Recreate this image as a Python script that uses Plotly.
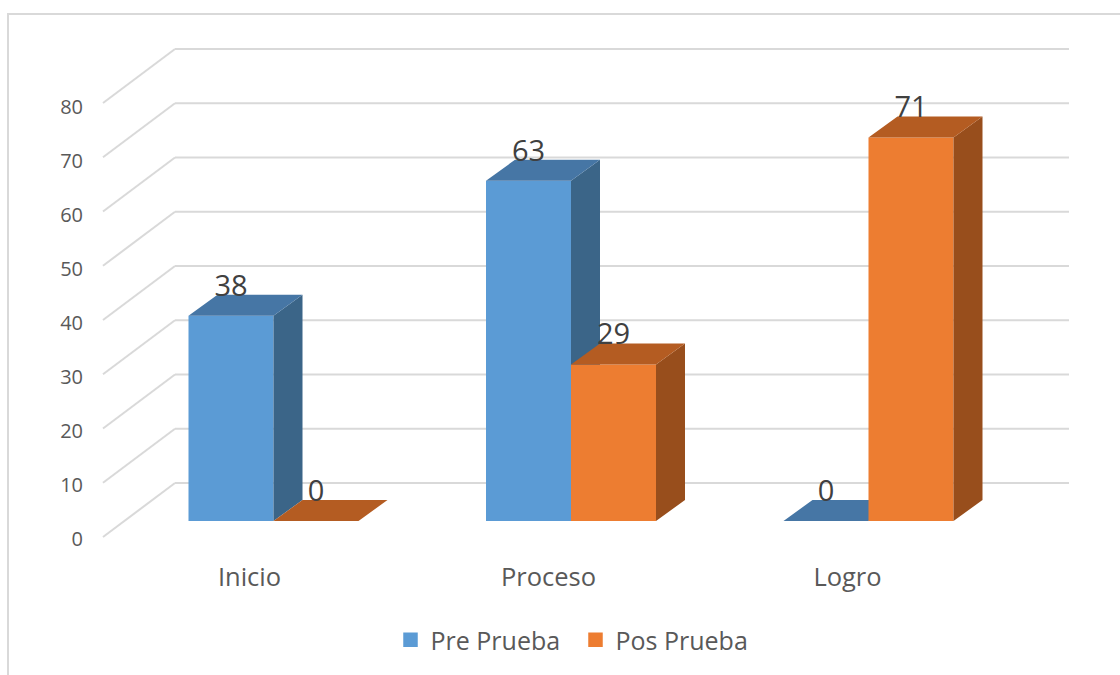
import plotly.graph_objects as go

categories = ["Inicio", "Proceso", "Logro"]
pre_prueba = [38, 63, 0]
pos_prueba = [0, 29, 71]
grid_values = [0, 10, 20, 30, 40, 50, 60, 70, 80]

W, H = 1120, 675
PX_CAT = 297.5
CAT0 = 273.5
PX_UNIT = 5.40
GRID_UNIT = 5.425
Y0 = 521
BAR_W = 85 / PX_CAT
DX = 29 / PX_CAT
DY = 21 / PX_UNIT
GRID = "#D9D9D9"
FONT = "Open Sans"
TXT = "#595959"
BLUE = "#5B9BD5"
ORANGE = "#ED7D31"


def px_x(p):
    return (p - CAT0) / PX_CAT


def px_y(p):
    return (Y0 - p) / PX_UNIT


X_RANGE = [px_x(0), px_x(W)]
Y_RANGE = [px_y(H), px_y(0)]

shapes = []
for v in grid_values:
    front_y = px_y(537 - GRID_UNIT * v)
    back_y = px_y(483 - GRID_UNIT * v)
    for x0, y0, x1, y1 in [(px_x(103), front_y, px_x(175), back_y), (px_x(175), back_y, px_x(1069), back_y)]:
        shapes.append(dict(type="line", xref="x", yref="y", x0=x0, y0=y0, x1=x1, y1=y1,
                           layer="below", line=dict(color=GRID, width=2)))
shapes.append(dict(type="path", xref="paper", yref="paper", layer="below",
                   path=f"M {8/W} 0 L {8/W} {1-14/H} L 1 {1-14/H}", line=dict(color=GRID, width=2)))


def faces(values, offset):
    top_x, top_y, side_x, side_y = [], [], [], []
    for i, v in enumerate(values):
        l = i + offset
        r = l + BAR_W
        top_x += [l, l + DX, r + DX, r, l, None]
        top_y += [v, v + DY, v + DY, v, v, None]
        side_x += [r, r + DX, r + DX, r, r, None]
        side_y += [v, v + DY, DY, 0, v, None]
    return top_x, top_y, side_x, side_y


def add_series(fig, name, values, offset, front, top, side, xa, ya):
    tx, ty, sx, sy = faces(values, offset)
    fig.add_trace(go.Bar(name=name, x=[0, 1, 2], y=values, width=BAR_W, offset=offset, showlegend=False,
                         marker=dict(color=front, line=dict(width=0)), xaxis=xa, yaxis=ya))
    fig.add_trace(go.Scatter(x=sx, y=sy, mode="lines", fill="toself", fillcolor=side,
                             line=dict(width=0, color=side), showlegend=False, hoverinfo="skip", xaxis=xa, yaxis=ya))
    fig.add_trace(go.Scatter(x=tx, y=ty, mode="lines", fill="toself", fillcolor=top,
                             line=dict(width=0, color=top), showlegend=False, hoverinfo="skip", xaxis=xa, yaxis=ya))
    # legend key only: no data drawn, wider outline gives the larger square swatch
    fig.add_trace(go.Bar(name=name, x=[None], y=[None], marker=dict(color=front, line=dict(width=2.5, color=front)),
                         xaxis=xa, yaxis=ya))


fig = go.Figure()
add_series(fig, "Pre Prueba", pre_prueba, -BAR_W, BLUE, "#4676A5", "#3B6588", "x", "y")
add_series(fig, "Pos Prueba", pos_prueba, 0, ORANGE, "#B45C22", "#984E1C", "x2", "y2")

label_shift = 27.5 / PX_UNIT
label_x = [i - BAR_W / 2 for i in range(3)] + [i + BAR_W / 2 for i in range(3)]
label_v = pre_prueba + pos_prueba
fig.add_trace(go.Scatter(x=label_x, y=[v + label_shift for v in label_v], mode="text",
                         text=[str(v) for v in label_v], textposition="middle center",
                         textfont=dict(family=FONT, size=29, color="#404040"),
                         showlegend=False, hoverinfo="skip", xaxis="x2", yaxis="y2"))

# Axis-label layer: value 0 sits on the front wall, categories under the floor
fig.add_trace(go.Scatter(x=[0, 1, 2], y=[0, 0, 0], mode="markers", marker=dict(opacity=0),
                         showlegend=False, hoverinfo="skip", xaxis="x3", yaxis="y3"))

hidden = dict(visible=False, showgrid=False, zeroline=False, fixedrange=True)
fig.update_layout(
    width=W, height=H, autosize=False, margin=dict(l=0, r=0, t=0, b=0),
    paper_bgcolor="white", plot_bgcolor="rgba(0,0,0,0)",
    barmode="overlay", shapes=shapes, font=dict(family=FONT, color=TXT),
    xaxis=dict(range=X_RANGE, domain=[0, 1], **hidden),
    yaxis=dict(range=Y_RANGE, domain=[0, 1], **hidden),
    xaxis2=dict(range=X_RANGE, overlaying="x", anchor="y2", **hidden),
    yaxis2=dict(range=Y_RANGE, overlaying="y", anchor="x2", **hidden),
    xaxis3=dict(range=[(0 - 249.5) / 299, (W - 249.5) / 299], overlaying="x", anchor="free", position=1 - 559 / H,
                tickmode="array", tickvals=[0, 1, 2], ticktext=categories, showgrid=False, zeroline=False,
                showline=False, ticks="", tickfont=dict(family=FONT, size=25.5, color=TXT)),
    yaxis3=dict(range=[(538.5 - H) / PX_UNIT, 538.5 / PX_UNIT], overlaying="y", anchor="free", position=83 / W,
                tickmode="array", tickvals=grid_values, showgrid=False, zeroline=False,
                showline=False, ticks="", tickfont=dict(family=FONT, size=20, color=TXT)),
    legend=dict(orientation="h", x=390.5 / W, xanchor="left", y=1 - 640 / H, yanchor="middle",
                entrywidth=140, entrywidthmode="pixels",
                font=dict(family=FONT, size=25, color=TXT), bgcolor="rgba(0,0,0,0)"),
)
fig.write_html("out.html", post_script="document.body.style.margin='0';", config={"displayModeBar": False})
